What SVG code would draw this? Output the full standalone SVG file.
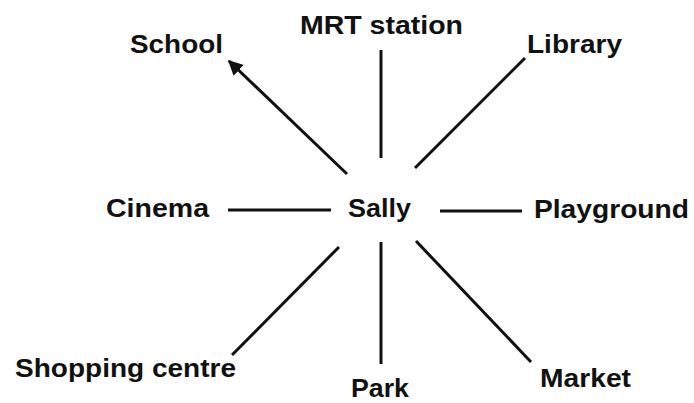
<svg xmlns="http://www.w3.org/2000/svg" width="694" height="403" viewBox="0 0 694 403">
<style>
.t{font-family:"Liberation Sans",Arial,sans-serif;font-weight:bold;font-size:26px;fill:#111}
.c{stroke:#111;stroke-width:3;fill:none}
</style>
<defs>
<marker id="ah" viewBox="0 0 10 10" refX="9" refY="5" markerWidth="5" markerHeight="5" markerUnits="strokeWidth" orient="auto">
<path d="M0,0 L10,5 L0,10 z" fill="#111"/>
</marker>
</defs>
<rect width="694" height="403" fill="#fff"/>
<g id="connectors">
<line class="c" x1="347" y1="174" x2="229" y2="61" marker-end="url(#ah)"/>
<line class="c" x1="381" y1="50" x2="381" y2="158"/>
<line class="c" x1="415" y1="168" x2="525" y2="58"/>
<line class="c" x1="228" y1="210" x2="331" y2="210"/>
<line class="c" x1="440" y1="211" x2="522" y2="211"/>
<line class="c" x1="339" y1="247" x2="232" y2="355"/>
<line class="c" x1="381" y1="242" x2="381" y2="364"/>
<line class="c" x1="416" y1="241" x2="531" y2="362"/>
</g>
<g id="sally"><text class="t" x="348" y="217" textLength="63" lengthAdjust="spacingAndGlyphs">Sally</text></g>
<g id="mrt"><text class="t" x="300" y="34" textLength="163" lengthAdjust="spacingAndGlyphs">MRT station</text></g>
<g id="school"><text class="t" x="130" y="53" textLength="93" lengthAdjust="spacingAndGlyphs">School</text></g>
<g id="library"><text class="t" x="527" y="53" textLength="95" lengthAdjust="spacingAndGlyphs">Library</text></g>
<g id="cinema"><text class="t" x="106" y="217" textLength="103" lengthAdjust="spacingAndGlyphs">Cinema</text></g>
<g id="playground"><text class="t" x="534" y="218" textLength="155" lengthAdjust="spacingAndGlyphs">Playground</text></g>
<g id="shopping"><text class="t" x="15" y="377" textLength="221" lengthAdjust="spacingAndGlyphs">Shopping centre</text></g>
<g id="park"><text class="t" x="351" y="397" textLength="58" lengthAdjust="spacingAndGlyphs">Park</text></g>
<g id="market"><text class="t" x="540" y="387" textLength="91" lengthAdjust="spacingAndGlyphs">Market</text></g>
</svg>
